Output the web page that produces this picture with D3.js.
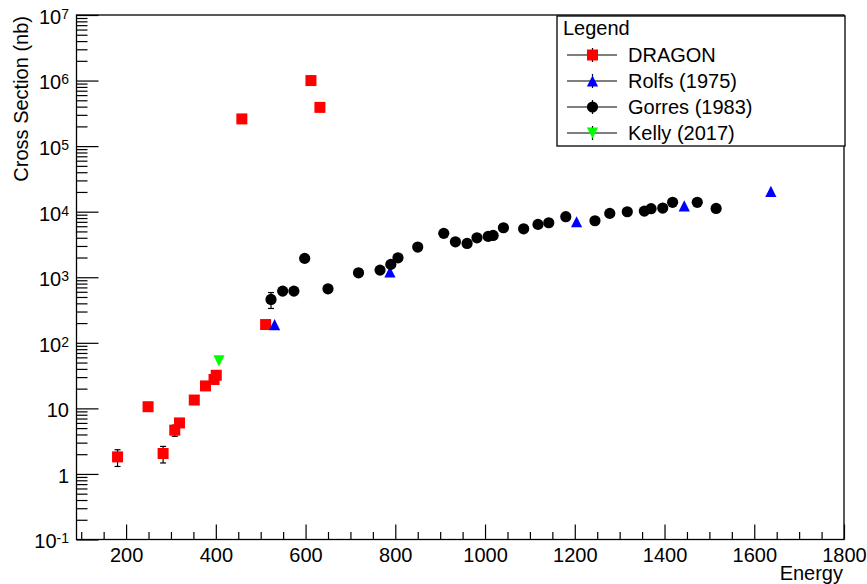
<!DOCTYPE html>
<html>
<head>
<meta charset="utf-8">
<script src="https://cdn.jsdelivr.net/npm/d3@7"></script>
<style>
  body { margin: 0; background: #fff; }
  text { font-family: "Liberation Sans", Arial, Helvetica, sans-serif; }
</style>
</head>
<body>
<div id="chart"></div>
<script>

// DRAGON
var dragonE   = [181, 249, 282.5, 308.5, 319, 352, 377, 396, 401, 458, 511, 612, 632];
var dragonXS  = [1.82, 10.6, 2.05, 4.65, 6.0, 13.4, 22, 27.6, 32, 2.6e5, 190, 1.0e6, 3.9e5];
var dragonErr = [0.52, 0, 0.58, 0.9, 0, 0, 0, 0, 0, 0, 0, 0, 0];

// Rolfs (1975)
var rolfsE  = [531, 788, 1204, 1444, 1637];
var rolfsXS = [190, 1210, 7020, 12300, 20400];

// Gorres (1983)
var gorresE  = [523, 549, 574, 598, 650, 718, 766, 790, 806, 850, 908, 934, 960, 982,
                1007, 1018, 1041, 1086, 1118, 1142, 1180, 1245, 1278, 1317, 1355, 1370,
                1396, 1418, 1473, 1515];
var gorresXS = [459, 615, 615, 1940, 667, 1170, 1285, 1570, 1980, 2885, 4670, 3475, 3280, 4000,
                4200, 4340, 5690, 5480, 6400, 6780, 8380, 7280, 9420, 9970, 10200, 11100,
                11350, 13900, 13900, 11200];
var gorresErr = [125];

// Kelly (2017)
var kellyE  = [407];
var kellyXS = [53];

var xMajor = [200, 400, 600, 800, 1000, 1200, 1400, 1600, 1800];
var yMajor = [1e-1, 1, 10, 1e2, 1e3, 1e4, 1e5, 1e6, 1e7];
var yLabels = [["10","-1"], ["1",""], ["10",""], ["10","2"], ["10","3"], ["10","4"], ["10","5"], ["10","6"], ["10","7"]];

var W = 867, H = 584;
var plot = {left: 76.5, right: 844, top: 15, bottom: 539.5};

var svg = d3.select("#chart").append("svg")
    .attr("width", W)
    .attr("height", H);

var x = d3.scaleLinear().domain([89.5, 1800]).range([plot.left, plot.right]);
var y = d3.scaleLog().domain([0.1, 1e7]).range([plot.bottom, plot.top]);

// frame
svg.append("rect")
  .attr("x", plot.left).attr("y", plot.top)
  .attr("width", plot.right - plot.left).attr("height", plot.bottom - plot.top)
  .style("fill", "none").style("stroke", "#000").style("stroke-width", 1.3);

// minor ticks
var xMinor = d3.range(100, 1800, 50).filter(function(v){ return v % 200 != 0; });
var yMinor = [];
for (var p = -1; p < 7; p++) for (var k = 2; k <= 9; k++) yMinor.push(k * Math.pow(10, p));

svg.append("g")
  .attr("transform", "translate(0," + plot.bottom + ")")
  .call(d3.axisBottom(x).tickValues(xMinor).tickSizeInner(-7.5).tickSizeOuter(0).tickFormat(""))
  .call(function(g){ g.select(".domain").remove(); });

svg.append("g")
  .attr("transform", "translate(" + plot.left + ",0)")
  .call(d3.axisLeft(y).tickValues(yMinor).tickSizeInner(-11).tickSizeOuter(0).tickFormat(""))
  .call(function(g){ g.select(".domain").remove(); });

// major ticks + labels
var xAxis = svg.append("g")
  .attr("transform", "translate(0," + plot.bottom + ")")
  .call(d3.axisBottom(x).tickValues(xMajor).tickSizeInner(-15).tickSizeOuter(0).tickPadding(8).tickFormat(d3.format("d")));
xAxis.select(".domain").remove();
xAxis.selectAll("text").style("font-size", "20px").style("fill", "#000")
  .style("font-family", '"Liberation Sans", Arial, sans-serif');

var yAxis = svg.append("g")
  .attr("transform", "translate(" + plot.left + ",0)")
  .call(d3.axisLeft(y).tickValues(yMajor).tickSizeInner(-22).tickSizeOuter(0).tickPadding(7.5));
yAxis.select(".domain").remove();
yAxis.selectAll("text")
  .attr("dy", "0.42em")
  .style("font-size", "20px").style("fill", "#000")
  .style("font-family", '"Liberation Sans", Arial, sans-serif')
  .each(function(d, i){
    var t = d3.select(this).text("");
    var lab = yLabels[i];
    t.append("tspan").text(lab[0]);
    if (lab[1]) t.append("tspan").attr("dy", -5).style("font-size", "14px").text(lab[1]);
  });

svg.selectAll(".tick line").style("stroke", "#000").style("stroke-width", 1.2);

// axis titles
svg.append("text")
  .attr("transform", "translate(28,16) rotate(-90)")
  .attr("text-anchor", "end")
  .style("font-size", "20px")
  .text("Cross Section (nb)");

svg.append("text")
  .attr("x", 843).attr("y", 579.5)
  .attr("text-anchor", "end")
  .style("font-size", "20px")
  .text("Energy");

// markers
var sq = 11, rc = 5.6, tri = 5.6;
function marker(g, type, color, cx, cy) {
  if (type == "square") {
    g.append("rect").attr("x", cx - sq/2).attr("y", cy - sq/2).attr("width", sq).attr("height", sq).style("fill", color);
  } else if (type == "circle") {
    g.append("circle").attr("cx", cx).attr("cy", cy).attr("r", rc).style("fill", color);
  } else if (type == "up") {
    g.append("path").attr("d", "M" + (cx - tri) + "," + (cy + tri) + " L" + (cx + tri) + "," + (cy + tri) + " L" + cx + "," + (cy - tri) + "Z").style("fill", color);
  } else {
    g.append("path").attr("d", "M" + (cx - tri) + "," + (cy - tri) + " L" + (cx + tri) + "," + (cy - tri) + " L" + cx + "," + (cy + tri) + "Z").style("fill", color);
  }
}

function errbar(g, cx, v, e) {
  if (!e) return;
  var y1 = y(v + e), y2 = y(Math.max(v - e, 0.1));
  g.append("line").attr("x1", cx).attr("x2", cx).attr("y1", y1).attr("y2", y2).style("stroke", "#000").style("stroke-width", 1.2);
  [y1, y2].forEach(function(yy){
    g.append("line").attr("x1", cx - 3).attr("x2", cx + 3).attr("y1", yy).attr("y2", yy).style("stroke", "#000").style("stroke-width", 1.2);
  });
}

function series(E, XS, err, type, color) {
  var g = svg.append("g");
  E.forEach(function(e, i){ errbar(g, x(e), XS[i], err[i]); });
  E.forEach(function(e, i){ marker(g, type, color, x(e), y(XS[i])); });
}

series(dragonE, dragonXS, dragonErr, "square", "#ff0000");
series(rolfsE, rolfsXS, [], "up", "#0000ff");
series(gorresE, gorresXS, gorresErr, "circle", "#000000");
series(kellyE, kellyXS, [], "down", "#00ff00");

// legend
var leg = svg.append("g");
leg.append("rect")
  .attr("x", 557).attr("y", 16).attr("width", 288).attr("height", 130)
  .style("fill", "#fff").style("stroke", "#000").style("stroke-width", 1.3);
leg.append("text").attr("x", 563).attr("y", 35).style("font-size", "20px").text("Legend");

var legNames = ["DRAGON", "Rolfs (1975)", "Gorres (1983)", "Kelly (2017)"];
var legTypes = ["square", "up", "circle", "down"];
var legColors = ["#ff0000", "#0000ff", "#000000", "#00ff00"];
legNames.forEach(function(n, i){
  var cy = 55 + i * 26;
  leg.append("line").attr("x1", 567).attr("x2", 617).attr("y1", cy).attr("y2", cy).style("stroke", "#000").style("stroke-width", 1.2);
  leg.append("line").attr("x1", 592.5).attr("x2", 592.5).attr("y1", cy - 7).attr("y2", cy + 7).style("stroke", "#000").style("stroke-width", 1.2);
  marker(leg, legTypes[i], legColors[i], 592.5, cy);
  leg.append("text").attr("x", 628).attr("y", cy + 6.5).style("font-size", "20px").text(n);
});

</script>
</body>
</html>
